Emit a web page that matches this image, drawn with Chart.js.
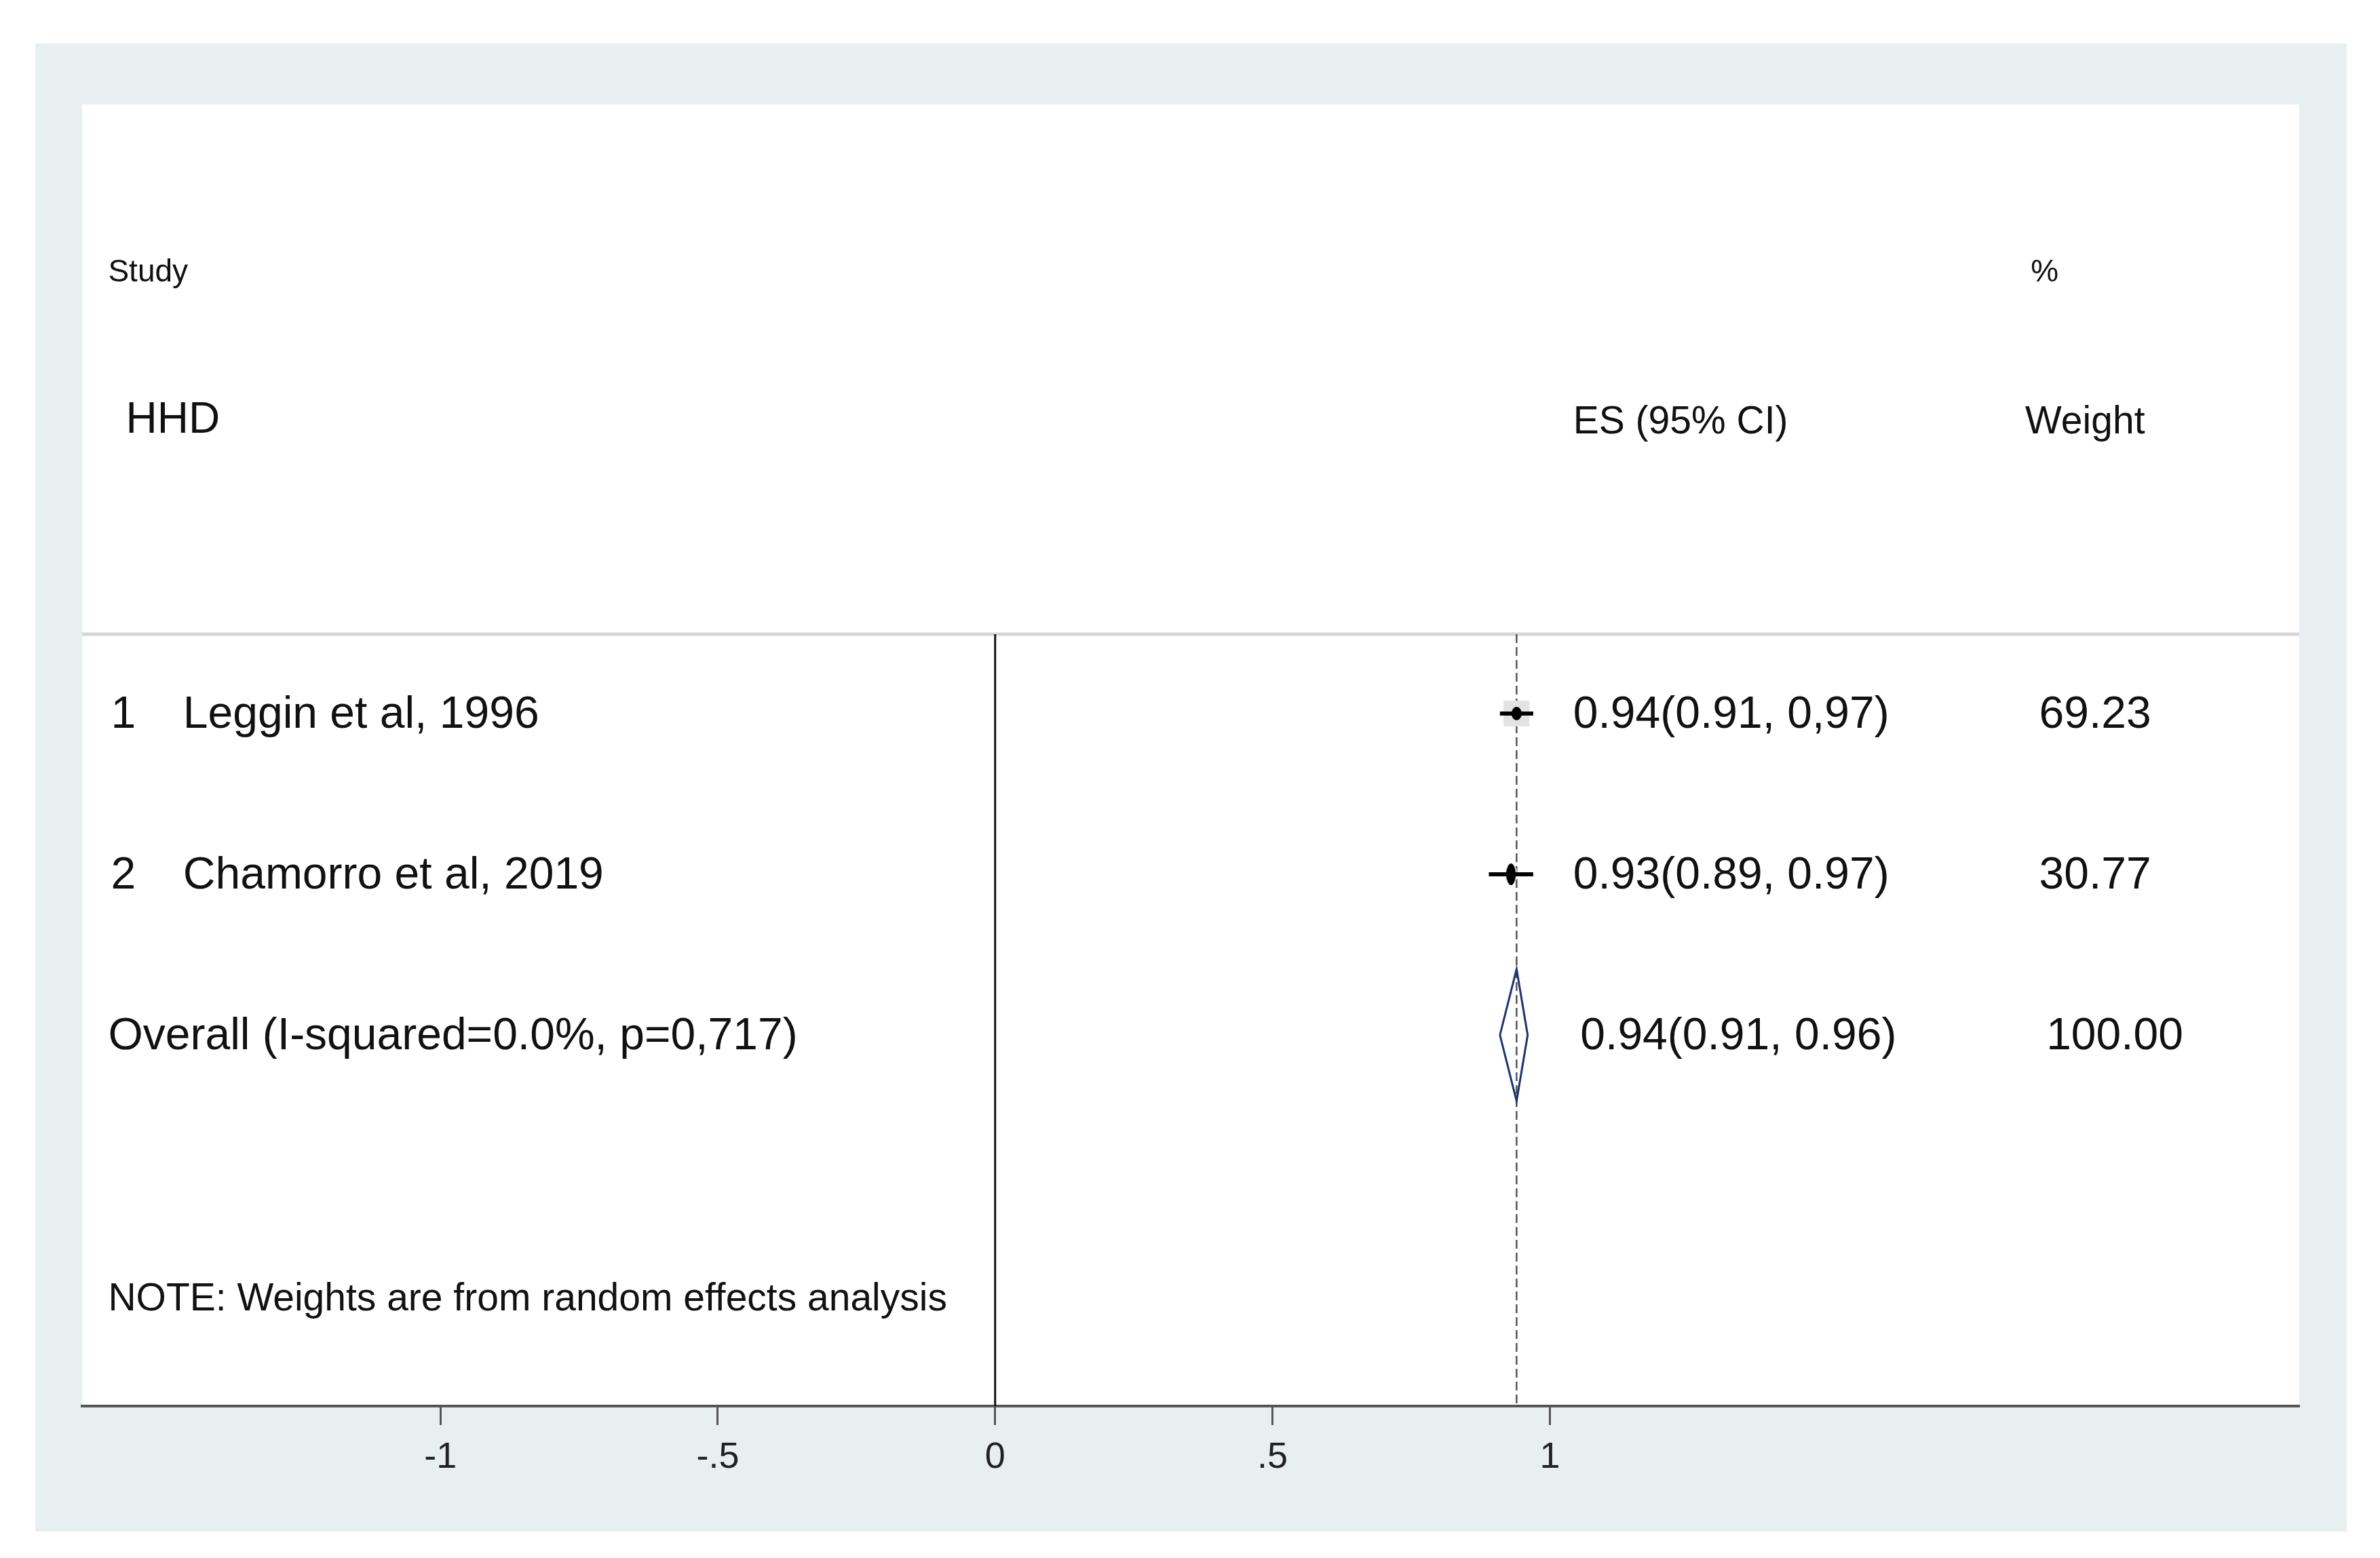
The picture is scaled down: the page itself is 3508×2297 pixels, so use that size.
<!DOCTYPE html>
<html>
<head>
<meta charset="utf-8">
<title>HHD forest plot</title>
<script src="https://cdn.jsdelivr.net/npm/chart.js@4.4.1/dist/chart.umd.min.js"></script>
<style>
  html, body { margin: 0; padding: 0; background: #fff; }
  canvas { display: block; }
</style>
</head>
<body>
<canvas id="forest" width="3508" height="2297"></canvas>
<script>
// data
const studies = ['Leggin et al, 1996', 'Chamorro et al, 2019'];
const es = [0.94, 0.93];
const lower = [0.91, 0.89];
const upper = [0.97, 0.97];
const weights = [69.23, 30.77];
const esLabels = ['0.94(0.91, 0,97)', '0.93(0.89, 0.97)'];
const weightLabels = ['69.23', '30.77'];

const overallText = 'Overall (I-squared=0.0%, p=0,717)';
const overallCI = [0.91, 0.94, 0.96];
const overallLabel = '0.94(0.91, 0.96)';
const overallWeight = '100.00';

const tickValues = [-1, -0.5, 0, 0.5, 1];
const tickLabels = ['-1', '-.5', '0', '.5', '1'];

// layout (data units of the scales)
const FONT = '"Liberation Sans", Arial, sans-serif';
const X_MIN = -1.646, X_MAX = 2.351;
const Y_TOP = -2.789, Y_BOTTOM = 5.308;
const SEP_ROW = 0.506;
const OVERALL_ROW = studies.length + 1;
const col = { left: -1.599, num: -1.594, name: -1.464, hhd: -1.567, es: 1.042, esOverall: 1.055, wt: 1.857, wtVal: 1.882, wtOverall: 1.895 };

function ellipseMarker(w, h) {
  const c = document.createElement('canvas');
  c.width = w; c.height = h;
  const g = c.getContext('2d');
  g.fillStyle = '#000';
  g.beginPath();
  g.ellipse(w / 2, h / 2, w / 2, h / 2, 0, 0, Math.PI * 2);
  g.fill();
  return c;
}
const markers = [ellipseMarker(15, 20), ellipseMarker(14, 32)];

const line = (data, color, width, dash, order) => ({
  data, showLine: true, borderColor: color, borderWidth: width, borderDash: dash || [],
  pointRadius: 0, tension: 0, order,
});

const datasets = [];
// weight boxes
datasets.push({
  data: studies.map((s, i) => ({ x: es[i], y: i + 1 })),
  pointStyle: 'rect', pointRadius: weights.map(w => w * 0.39),
  backgroundColor: '#e3e3e3', borderWidth: 0, order: 3,
});
// CI whiskers
studies.forEach((s, i) => {
  datasets.push(line([{ x: lower[i], y: i + 1 }, { x: upper[i], y: i + 1 }], '#000', 6, null, 1));
});
// point estimates
datasets.push({
  data: studies.map((s, i) => ({ x: es[i], y: i + 1 })),
  pointStyle: markers, pointRadius: 10, order: 0,
});
// overall diamond
const h = 0.41;
datasets.push(line([
  { x: overallCI[0], y: OVERALL_ROW }, { x: overallCI[1], y: OVERALL_ROW - h },
  { x: overallCI[2], y: OVERALL_ROW }, { x: overallCI[1], y: OVERALL_ROW + h },
  { x: overallCI[0], y: OVERALL_ROW },
], '#1d3370', 3, null, 2));
// reference lines
datasets.push(line([{ x: 0, y: SEP_ROW }, { x: 0, y: Y_BOTTOM }], '#111', 3, null, 5));
datasets.push(line([{ x: overallCI[1], y: SEP_ROW }, { x: overallCI[1], y: Y_BOTTOM }], '#555', 2.5, [13, 6], 4));
datasets.push(line([{ x: X_MIN, y: SEP_ROW }, { x: X_MAX, y: SEP_ROW }], '#d6d6d6', 5, null, 6));

const background = {
  id: 'background',
  beforeDraw(chart) {
    const { ctx, chartArea: a } = chart;
    ctx.save();
    ctx.fillStyle = '#e8eff1';
    ctx.fillRect(52, 64, 3407, 2194);
    ctx.fillStyle = '#fff';
    ctx.fillRect(a.left, a.top, a.right - a.left, a.bottom - a.top);
    ctx.restore();
  },
};

const tableText = {
  id: 'tableText',
  afterDraw(chart) {
    const { ctx } = chart;
    const xs = chart.scales.x, ys = chart.scales.y;
    const put = (txt, x, y, size) => {
      ctx.font = size + 'px ' + FONT;
      ctx.fillText(txt, xs.getPixelForValue(x), ys.getPixelForValue(y + 0.01));
    };
    ctx.save();
    ctx.fillStyle = '#111';
    ctx.textAlign = 'left';
    ctx.textBaseline = 'middle';
    put('Study', col.left, -1.75, 46);
    put('%', col.wt + 0.01, -1.75, 46);
    put('HHD', col.hhd, -0.83, 64);
    put('ES (95% CI)', col.es, -0.82, 57);
    put('Weight', col.wt, -0.82, 57);
    studies.forEach((s, i) => {
      put(String(i + 1), col.num, i + 1, 66);
      put(s, col.name, i + 1, 66);
      put(esLabels[i], col.es, i + 1, 66);
      put(weightLabels[i], col.wtVal, i + 1, 66);
    });
    put(overallText, col.left, OVERALL_ROW, 66);
    put(overallLabel, col.esOverall, OVERALL_ROW, 66);
    put(overallWeight, col.wtOverall, OVERALL_ROW, 66);
    put('NOTE: Weights are from random effects analysis', col.left, 4.637, 57);
    ctx.restore();
  },
};

new Chart(document.getElementById('forest'), {
  type: 'scatter',
  data: { datasets },
  options: {
    responsive: false,
    devicePixelRatio: 1,
    animation: false,
    layout: { padding: { left: 121, top: 154, right: 119, bottom: 0 } },
    plugins: { legend: { display: false }, tooltip: { enabled: false } },
    scales: {
      x: {
        type: 'linear', min: X_MIN, max: X_MAX,
        afterBuildTicks: s => { s.ticks = tickValues.map(v => ({ value: v })); },
        afterFit: s => { s.height = 224; },
        ticks: {
          callback: (v, i) => tickLabels[i],
          font: { family: FONT, size: 54 }, color: '#222',
          padding: 16, maxRotation: 0, autoSkip: false,
        },
        grid: { drawOnChartArea: false, drawTicks: true, tickLength: 28, tickWidth: 3, tickColor: '#555' },
        border: { display: true, color: '#555', width: 4 },
      },
      y: { type: 'linear', reverse: true, min: Y_TOP, max: Y_BOTTOM, display: false },
    },
  },
  plugins: [background, tableText],
});
</script>
</body>
</html>
